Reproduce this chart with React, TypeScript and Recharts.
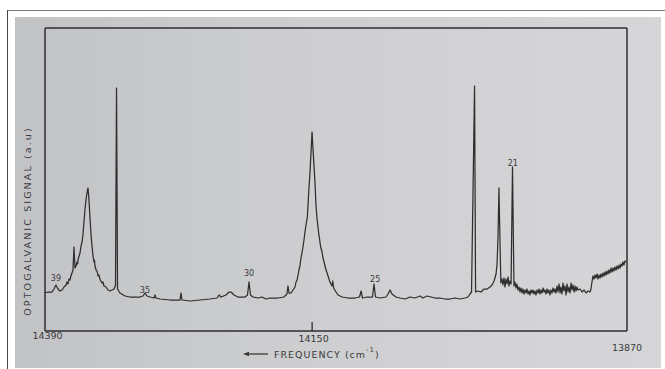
import React from 'react';
import { LineChart, Line, XAxis, YAxis, ReferenceDot } from 'recharts';

// Optogalvanic spectrum, frequency in cm^-1 (decreasing to the right), signal in arbitrary units
const segLeft: [number, number][] = [
  [14390, 38], [14387.3, 39], [14383.7, 39], [14382.0, 42], [14380.2, 46], [14378.4, 42],
  [14376.6, 40], [14374.8, 41], [14373.0, 44], [14371.2, 46], [14370.3, 49], [14369.5, 47],
  [14368.6, 52], [14367.7, 51], [14366.8, 55], [14365.9, 58], [14365.0, 61], [14364.1, 84],
  [14363.2, 63], [14362.3, 65], [14361.4, 69], [14360.9, 67], [14360.5, 71], [14359.6, 75], [14358.7, 78],
  [14357.8, 85], [14356.9, 89], [14356.0, 97], [14355.2, 109], [14354.3, 121], [14353.4, 131],
  [14352.5, 138], [14351.6, 143], [14350.7, 131], [14349.8, 113], [14348.9, 97], [14348.0, 85],
  [14347.1, 75], [14346.2, 69], [14345.8, 71], [14345.3, 65], [14344.4, 61], [14343.5, 60], [14342.6, 55],
  [14341.8, 56], [14340.9, 52], [14339.1, 48], [14338.2, 49], [14337.3, 45], [14335.5, 44], [14333.7, 41],
  [14331.9, 40], [14330.1, 41], [14328.3, 42], [14327.0, 46], [14326.1, 243], [14325.2, 42],
  [14323.0, 38], [14318.5, 35], [14314.1, 34],
];

const segMiddle: [number, number][] = [
  [14309.6, 34], [14305.1, 34], [14302.4, 35], [14300.7, 38], [14298.9, 35], [14296.2, 34],
  [14292.6, 33], [14291.7, 36], [14290.8, 33], [14287.2, 32], [14278.3, 31], [14269.4, 31],
  [14268.5, 38], [14267.6, 31], [14260.4, 30], [14251.5, 31], [14242.6, 32], [14236.3, 33],
  [14234.5, 36], [14232.7, 34], [14228.3, 36], [14225.6, 39], [14223.8, 39], [14221.1, 36],
  [14217.6, 34], [14211.3, 34], [14209.1, 36], [14207.7, 49], [14206.4, 36], [14204.2, 34],
  [14199.7, 33], [14196.1, 34], [14192.5, 32], [14189.0, 33], [14181.8, 33], [14176.5, 34],
  [14173.8, 37], [14172.9, 45], [14172.0, 38], [14170.2, 38],
];

const segMain: [number, number][] = [
  [14168.4, 41], [14166.6, 44], [14165.7, 49], [14164.8, 51], [14163.9, 56], [14163.1, 61],
  [14162.2, 65], [14161.3, 73], [14160.4, 78], [14159.5, 84], [14158.6, 91], [14157.7, 99],
  [14156.8, 106], [14155.6, 114], [14155.0, 126], [14154.1, 144], [14153.2, 159], [14152.3, 179],
  [14151.4, 199], [14150.5, 181], [14149.7, 166], [14148.8, 149], [14147.9, 126], [14147.0, 113],
  [14145.6, 99], [14143.7, 84], [14142.5, 79], [14141.6, 73], [14140.7, 69], [14138.9, 61],
  [14137.1, 55], [14135.4, 49], [14133.6, 45], [14132.9, 50], [14132.1, 43], [14130.0, 39],
  [14128.2, 36], [14124.6, 34],
];

const segRight: [number, number][] = [
  [14119.3, 33], [14113.0, 33], [14109.0, 34], [14107.6, 40], [14106.3, 33], [14102.3, 34],
  [14097.4, 34], [14096.0, 47], [14094.7, 34], [14090.7, 33], [14085.3, 34], [14083.5, 37],
  [14081.7, 41], [14080.0, 37], [14076.4, 34], [14072.8, 33], [14068.3, 32], [14063.9, 34],
  [14059.4, 33], [14054.9, 35], [14052.3, 33], [14048.7, 35], [14045.1, 34], [14041.5, 33],
  [14037.1, 33], [14032.6, 32], [14028.1, 32], [14023.7, 33], [14019.2, 32], [14014.7, 33],
  [14012.1, 34], [14010.3, 37], [14008.9, 39], [14006.2, 245], [14005.3, 39], [14003.1, 40],
  [14000.4, 39], [13997.8, 42], [13995.1, 42], [13992.4, 44], [13990.6, 46], [13988.8, 50],
  [13987.0, 57], [13986.1, 67], [13985.2, 96], [13984.4, 143], [13983.5, 91], [13982.7, 48],
];

const segNoisy: [number, number][] = [
  [13981.7, 52], [13980.8, 46], [13979.9, 53], [13979.0, 44], [13978.1, 52], [13977.2, 47],
  [13976.3, 54], [13975.4, 45], [13974.5, 50], [13973.6, 47], [13972.3, 164], [13971.0, 45],
  [13970.1, 49], [13969.2, 43], [13968.3, 47], [13967.4, 41], [13966.5, 44], [13965.6, 39],
  [13964.7, 43], [13963.8, 38], [13962.9, 42], [13962.0, 37], [13961.1, 41], [13960.2, 38],
  [13959.3, 42], [13958.4, 37], [13957.5, 40], [13956.7, 36], [13955.8, 41], [13954.9, 38],
  [13954.0, 41], [13953.1, 37], [13952.2, 40], [13951.3, 36], [13950.4, 41], [13949.5, 38],
  [13948.6, 42], [13947.7, 37], [13946.8, 41], [13945.9, 38], [13945.0, 43], [13944.1, 39],
  [13943.3, 41], [13942.4, 37], [13941.5, 42], [13940.6, 38], [13939.7, 41], [13938.8, 36],
  [13937.9, 41], [13937.0, 38], [13936.1, 43], [13935.2, 39], [13934.3, 42], [13933.4, 38],
  [13932.5, 45], [13931.6, 39], [13930.7, 47], [13929.8, 38], [13929.0, 44], [13928.1, 37],
  [13927.2, 48], [13926.3, 40], [13925.4, 45], [13924.5, 36], [13923.6, 47], [13922.7, 39],
  [13921.8, 44], [13920.9, 38], [13920.0, 48], [13919.1, 41], [13918.2, 46], [13917.3, 39],
  [13916.4, 45], [13915.6, 40], [13914.7, 44], [13913.8, 41], [13912.0, 42], [13910.2, 39],
  [13908.4, 41], [13906.6, 38], [13904.8, 40], [13903.0, 39], [13902.2, 42], [13901.3, 49],
  [13900.4, 55], [13899.5, 52], [13898.6, 56], [13897.7, 53], [13896.8, 57], [13895.9, 52],
  [13895.0, 56], [13894.1, 53], [13893.2, 57], [13892.3, 54], [13891.4, 58], [13890.5, 55],
  [13889.6, 59], [13888.7, 56], [13887.9, 60], [13887.0, 57], [13886.1, 61], [13885.2, 58],
  [13884.3, 63], [13883.4, 59], [13882.5, 63], [13881.6, 60], [13880.7, 64], [13879.8, 61],
  [13878.9, 65], [13878.0, 62], [13877.1, 66], [13876.2, 63], [13875.3, 67], [13874.5, 65],
  [13873.6, 69], [13872.7, 66], [13871.8, 70], [13870.9, 69],
];

const xTicks = [14390, 14150, 13870];
const peakLabels = ['39', '35', '30', '25', '21'];
const peakLabelFreqs = [14380.2, 14300.7, 14207.7, 14095.0, 13972.0];
const peakLabelLevels = [53, 41, 58, 52, 168];

const spectrum = [...segLeft, ...segMiddle, ...segMain, ...segRight, ...segNoisy].map(([f, s]) => ({ f, s }));

const INK = '#2e2e30';
const FONT = '"DejaVu Sans", "Liberation Sans", sans-serif';

const tickShift: Record<number, [number, number]> = {
  14390: [2.5, 4],
  14150: [0, 7],
  13870: [0, 16.5],
};

const FreqTick = (props: any) => {
  const { x, y, payload } = props;
  const [dx, dy] = tickShift[payload.value] ?? [0, 6];
  return (
    <g>
      {payload.value === 14150 && (
        <line x1={x - 1.5} x2={x - 1.5} y1={y} y2={y - 9} stroke={INK} strokeWidth={1.3} />
      )}
      <text
        x={x + dx}
        y={y + dy}
        textAnchor="middle"
        dominantBaseline="central"
        fontSize={9.5}
        fill="#3a3a3c"
        fontFamily={FONT}
      >
        {payload.value}
      </text>
    </g>
  );
};

const YTitle = (props: any) => {
  const vb = props.viewBox || { x: 0, y: 28 };
  const cx = vb.x + 27;
  const cy = vb.y + 193;
  return (
    <text
      x={cx}
      y={cy}
      transform={`rotate(-90 ${cx} ${cy})`}
      textAnchor="middle"
      dominantBaseline="central"
      fontSize={9.5}
      letterSpacing={2.1}
      fill="#3a3a3c"
      fontFamily={FONT}
    >
      OPTOGALVANIC SIGNAL (a.u)
    </text>
  );
};

const XTitle = (props: any) => {
  const vb = props.viewBox || { x: 45, y: 331 };
  const y0 = vb.y + 23;
  const ax0 = 243;
  const ax1 = 268;
  return (
    <g>
      <line x1={ax0 + 4} x2={ax1} y1={y0} y2={y0} stroke="#3a3a3c" strokeWidth={1.3} />
      <polygon points={`${ax0},${y0} ${ax0 + 6},${y0 - 2.3} ${ax0 + 6},${y0 + 2.3}`} fill="#3a3a3c" />
      <text x={274} y={y0} dominantBaseline="central" fontSize={9.5} letterSpacing={1} fill="#3a3a3c" fontFamily={FONT}>
        FREQUENCY (cm
        <tspan dy={-4} fontSize={7}>-1</tspan>
        <tspan dy={4}>)</tspan>
      </text>
    </g>
  );
};

export default function App() {
  return (
    <div style={{ position: 'fixed', left: 0, top: 0, width: 665, height: 369, background: '#ffffff', overflow: 'hidden' }}>
      <div style={{ position: 'absolute', left: 7, top: 10, width: 658, height: 1, background: '#7a7a7c' }} />
      <div style={{ position: 'absolute', left: 7, top: 10, width: 1, height: 359, background: '#4a4a4c' }} />
      <div
        style={{
          position: 'absolute',
          left: 15,
          top: 17,
          width: 646,
          height: 351,
          background: 'linear-gradient(90deg, #c2c3c5 0%, #cbcccd 35%, #d2d2d4 70%, #d6d6d8 100%)',
        }}
      />
      <div style={{ position: 'absolute', left: 0, top: 0 }}>
        <LineChart width={665} height={369} data={spectrum} margin={{ top: 0, right: 0, bottom: 0, left: 0 }}>
          <XAxis
            dataKey="f"
            type="number"
            domain={[13870, 14390]}
            reversed
            ticks={xTicks}
            interval={0}
            height={38}
            tickSize={0}
            tickMargin={0}
            tickLine={false}
            axisLine={{ stroke: INK, strokeWidth: 1.5 }}
            tick={<FreqTick />}
            label={<XTitle />}
          />
          <XAxis
            xAxisId="top"
            orientation="top"
            type="number"
            domain={[13870, 14390]}
            reversed
            height={28}
            tick={false}
            tickLine={false}
            axisLine={{ stroke: INK, strokeWidth: 1.5 }}
          />
          <YAxis
            type="number"
            domain={[0, 303]}
            width={45}
            tick={false}
            tickLine={false}
            axisLine={{ stroke: INK, strokeWidth: 1.5 }}
            label={<YTitle />}
          />
          <YAxis
            yAxisId="right"
            orientation="right"
            type="number"
            domain={[0, 303]}
            width={38}
            tick={false}
            tickLine={false}
            axisLine={{ stroke: INK, strokeWidth: 1.5 }}
          />
          <Line
            type="linear"
            dataKey="s"
            stroke={INK}
            strokeWidth={1.25}
            strokeLinejoin="round"
            dot={false}
            activeDot={false}
            isAnimationActive={false}
          />
          {peakLabels.map((lab, i) => (
            <ReferenceDot
              key={lab}
              x={peakLabelFreqs[i]}
              y={peakLabelLevels[i]}
              r={0}
              fill="none"
              stroke="none"
              label={{ value: lab, position: 'center', fontSize: 8, fill: '#3a3a3c', fontFamily: FONT }}
            />
          ))}
        </LineChart>
      </div>
    </div>
  );
}
